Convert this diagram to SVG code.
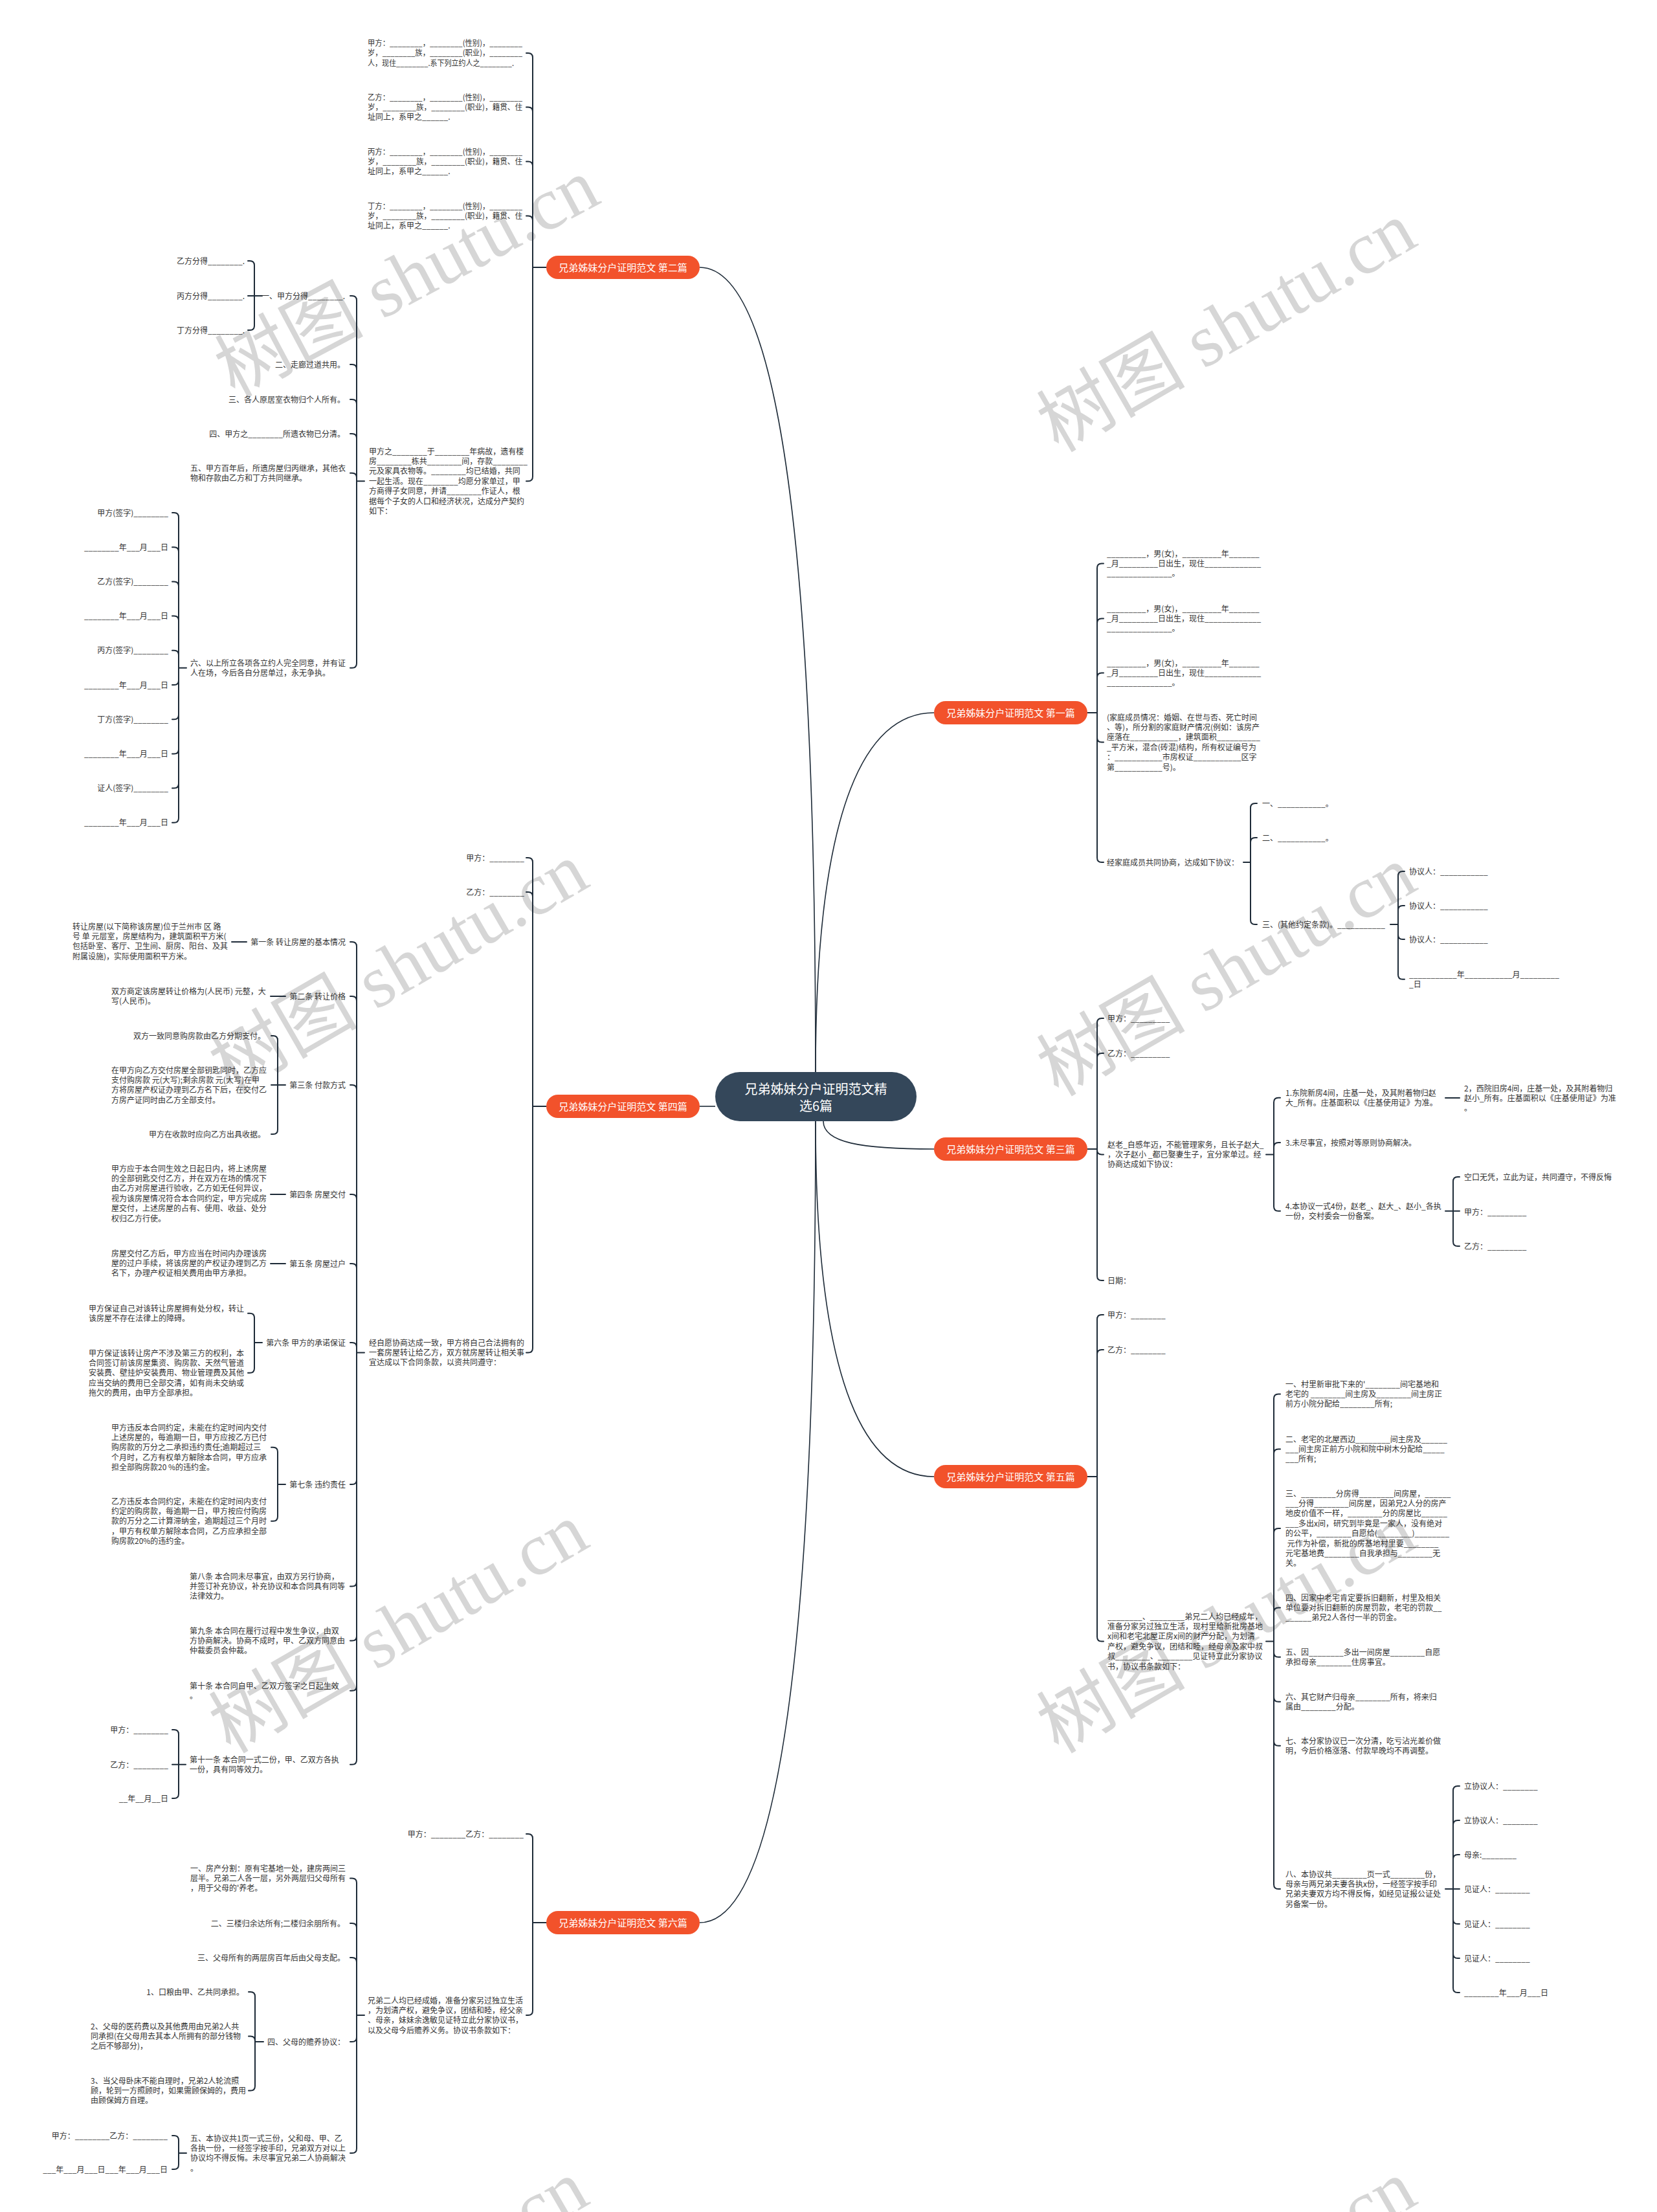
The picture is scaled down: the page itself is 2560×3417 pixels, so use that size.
<svg xmlns="http://www.w3.org/2000/svg" width="2560" height="3417" viewBox="0 0 2560 3417">
<style>
.t{font-family:"Noto Sans CJK SC","Noto Sans",sans-serif;font-size:12px;fill:#333;white-space:pre}
.e{text-anchor:end}
.ln{fill:none;stroke:#1e2b38;stroke-width:2;stroke-linecap:round}
.mc{fill:none;stroke:#1e2b38;stroke-width:1.6}
.br{fill:#f2522b}
.bt{font-family:"Noto Sans CJK SC",sans-serif;font-size:15px;fill:#fff;text-anchor:middle}
.ct{font-family:"Noto Sans CJK SC",sans-serif;font-size:20px;fill:#fff;text-anchor:middle}
.wm{font-family:"Liberation Serif","Noto Sans CJK SC",serif;font-size:115px;fill:#d6d6d6}
</style>
<rect width="2560" height="3417" fill="#fff"/>
<g id="watermarks">
<text class="wm" transform="translate(362,615) rotate(-28)">树图 shutu.cn</text>
<text class="wm" transform="translate(1635,700) rotate(-30)">树图 shutu.cn</text>
<text class="wm" transform="translate(356,1690) rotate(-30)">树图 shutu.cn</text>
<text class="wm" transform="translate(1635,1695) rotate(-30)">树图 shutu.cn</text>
<text class="wm" transform="translate(356,2710) rotate(-30)">树图 shutu.cn</text>
<text class="wm" transform="translate(1635,2710) rotate(-30)">树图 shutu.cn</text>
<text class="wm" transform="translate(356,3725) rotate(-30)">树图 shutu.cn</text>
<text class="wm" transform="translate(1635,3725) rotate(-30)">树图 shutu.cn</text>
</g>
<g id="connectors">
<path class="mc" d="M1081,413 C1180,413 1260,700 1260,1656"/>
<path class="mc" d="M1081,1709 H1105"/>
<path class="mc" d="M1081,2970 C1180,2970 1260,2685 1260,1732"/>
<path class="mc" d="M1443,1101 C1343,1101 1260,1230 1260,1656"/>
<path class="mc" d="M1443,1775 C1330,1775 1272,1765 1272,1732"/>
<path class="mc" d="M1443,2281 C1343,2281 1260,2155 1260,1732"/>
<path class="ln" d="M844,413H823V88.9Q823,81.9 816,81.9H813 M844,413H823V172.4Q823,165.4 816,165.4H813 M844,413H823V256.4Q823,249.4 816,249.4H813 M844,413H823V340.4Q823,333.4 816,333.4H813 M844,413H823V736.2Q823,743.2 816,743.2H813"/>
<path class="ln" d="M563,743.2H551V464Q551,457 544,457H541 M563,743.2H551V570Q551,563 544,563H541 M563,743.2H551V624Q551,617 544,617H541 M563,743.2H551V677Q551,670 544,670H541 M563,743.2H551V737.7Q551,730.7 544,730.7H541 M563,743.2H551V1024.7Q551,1031.7 544,1031.7H541"/>
<path class="ln" d="M405,457H393V410Q393,403 386,403H383 M405,457H383 M405,457H393V503Q393,510 386,510H383"/>
<path class="ln" d="M288,1031.7H276V799Q276,792 269,792H266 M288,1031.7H276V852.2Q276,845.2 269,845.2H266 M288,1031.7H276V905.4Q276,898.4 269,898.4H266 M288,1031.7H276V958.6Q276,951.6 269,951.6H266 M288,1031.7H276V1011.8Q276,1004.8 269,1004.8H266 M288,1031.7H276V1051Q276,1058 269,1058H266 M288,1031.7H276V1104.2Q276,1111.2 269,1111.2H266 M288,1031.7H276V1157.4Q276,1164.4 269,1164.4H266 M288,1031.7H276V1210.6Q276,1217.6 269,1217.6H266 M288,1031.7H276V1263.8Q276,1270.8 269,1270.8H266"/>
<path class="ln" d="M844,1709H823V1332Q823,1325 816,1325H813 M844,1709H823V1385Q823,1378 816,1378H813 M844,1709H823V2082.4Q823,2089.4 816,2089.4H813"/>
<path class="ln" d="M563,2089.4H551V1462Q551,1455 544,1455H541 M563,2089.4H551V1546Q551,1539 544,1539H541 M563,2089.4H551V1683Q551,1676 544,1676H541 M563,2089.4H551V1852Q551,1845 544,1845H541 M563,2089.4H551V1959Q551,1952 544,1952H541 M563,2089.4H551V2081Q551,2074 544,2074H541 M563,2089.4H551V2286Q551,2293 544,2293H541 M563,2089.4H551V2443.4Q551,2450.4 544,2450.4H541 M563,2089.4H551V2527.4Q551,2534.4 544,2534.4H541 M563,2089.4H551V2604.7Q551,2611.7 544,2611.7H541 M563,2089.4H551V2718.7Q551,2725.7 544,2725.7H541"/>
<path class="ln" d="M381,1455H358 M441,1539H418 M441,1845H418 M441,1952H418"/>
<path class="ln" d="M441,1676H429V1607Q429,1600 422,1600H419 M441,1676H419 M441,1676H429V1745Q429,1752 422,1752H419"/>
<path class="ln" d="M405,2074H393V2035.7Q393,2028.7 386,2028.7H383 M405,2074H393V2113.8Q393,2120.8 386,2120.8H383"/>
<path class="ln" d="M441,2293H429V2242.8Q429,2235.8 422,2235.8H419 M441,2293H429V2342.8Q429,2349.8 422,2349.8H419"/>
<path class="ln" d="M287,2725.7H276V2679Q276,2672 269,2672H266 M287,2725.7H266 M287,2725.7H276V2771Q276,2778 269,2778H266"/>
<path class="ln" d="M844,2970H823V2840Q823,2833 816,2833H813 M844,2970H823V3106.1Q823,3113.1 816,3113.1H813"/>
<path class="ln" d="M563,3113.1H551V2908.4Q551,2901.4 544,2901.4H541 M563,3113.1H551V2978Q551,2971 544,2971H541 M563,3113.1H551V3031Q551,3024 544,3024H541 M563,3113.1H551V3147Q551,3154 544,3154H541 M563,3113.1H551V3319.1Q551,3326.1 544,3326.1H541"/>
<path class="ln" d="M407,3154H394V3084Q394,3077 387,3077H384 M407,3154H394V3152.4Q394,3145.4 387,3145.4H384 M407,3154H394V3222.4Q394,3229.4 387,3229.4H384"/>
<path class="ln" d="M288,3326.1H276V3306Q276,3299 269,3299H266 M288,3326.1H276V3344Q276,3351 269,3351H266"/>
<path class="ln" d="M1680,1101H1695V877.4Q1695,870.4 1702,870.4H1705 M1680,1101H1695V962.4Q1695,955.4 1702,955.4H1705 M1680,1101H1695V1046.4Q1695,1039.4 1702,1039.4H1705 M1680,1101H1695V1139.5Q1695,1146.5 1702,1146.5H1705 M1680,1101H1695V1325Q1695,1332 1702,1332H1705"/>
<path class="ln" d="M1921,1332H1932V1248Q1932,1241 1939,1241H1942 M1921,1332H1932V1301Q1932,1294 1939,1294H1942 M1921,1332H1932V1421Q1932,1428 1939,1428H1942"/>
<path class="ln" d="M2148,1428H2160V1353Q2160,1346 2167,1346H2170 M2148,1428H2160V1406Q2160,1399 2167,1399H2170 M2148,1428H2160V1444Q2160,1451 2167,1451H2170 M2148,1428H2160V1505.7Q2160,1512.7 2167,1512.7H2170"/>
<path class="ln" d="M1680,1775H1695V1580Q1695,1573 1702,1573H1705 M1680,1775H1695V1634Q1695,1627 1702,1627H1705 M1680,1775H1695V1776.4Q1695,1783.4 1702,1783.4H1705 M1680,1775H1695V1971Q1695,1978 1702,1978H1705"/>
<path class="ln" d="M1956,1783.4H1968V1702.7Q1968,1695.7 1975,1695.7H1978 M1956,1783.4H1968V1772Q1968,1765 1975,1765H1978 M1956,1783.4H1968V1863.7Q1968,1870.7 1975,1870.7H1978"/>
<path class="ln" d="M2233,1696H2255"/>
<path class="ln" d="M2233,1870.7H2245V1825Q2245,1818 2252,1818H2255 M2233,1870.7H2255 M2233,1870.7H2245V1918Q2245,1925 2252,1925H2255"/>
<path class="ln" d="M1680,2281H1695V2038Q1695,2031 1702,2031H1705 M1680,2281H1695V2092Q1695,2085 1702,2085H1705 M1680,2281H1695V2528.5Q1695,2535.5 1702,2535.5H1705"/>
<path class="ln" d="M1956,2535.5H1968V2160.4Q1968,2153.4 1975,2153.4H1978 M1956,2535.5H1968V2245.4Q1968,2238.4 1975,2238.4H1978 M1956,2535.5H1968V2367.9Q1968,2360.9 1975,2360.9H1978 M1956,2535.5H1968V2490.4Q1968,2483.4 1975,2483.4H1978 M1956,2535.5H1968V2552.7Q1968,2559.7 1975,2559.7H1978 M1956,2535.5H1968V2621.7Q1968,2628.7 1975,2628.7H1978 M1956,2535.5H1968V2689.7Q1968,2696.7 1975,2696.7H1978 M1956,2535.5H1968V2911.1Q1968,2918.1 1975,2918.1H1978"/>
<path class="ln" d="M2233,2918.1H2245V2766Q2245,2759 2252,2759H2255 M2233,2918.1H2245V2819Q2245,2812 2252,2812H2255 M2233,2918.1H2245V2872Q2245,2865 2252,2865H2255 M2233,2918.1H2255 M2233,2918.1H2245V2965Q2245,2972 2252,2972H2255 M2233,2918.1H2245V3018Q2245,3025 2252,3025H2255 M2233,2918.1H2245V3071Q2245,3078 2252,3078H2255"/>
</g>
<g id="center"><rect x="1105" y="1656" width="311" height="76" rx="38" fill="#34475a"/><text class="ct" x="1260.5" y="1690">兄弟姊妹分户证明范文精</text><text class="ct" x="1260.5" y="1716">选6篇</text></g>
<g id="b2"><rect class="br" x="844" y="395" width="237" height="36" rx="18"/><text class="bt" x="962.5" y="418.5">兄弟姊妹分户证明范文 第二篇</text></g>
<g id="b4"><rect class="br" x="844" y="1691" width="237" height="36" rx="18"/><text class="bt" x="962.5" y="1714.5">兄弟姊妹分户证明范文 第四篇</text></g>
<g id="b6"><rect class="br" x="844" y="2952" width="237" height="36" rx="18"/><text class="bt" x="962.5" y="2975.5">兄弟姊妹分户证明范文 第六篇</text></g>
<g id="b1"><rect class="br" x="1443" y="1083" width="237" height="36" rx="18"/><text class="bt" x="1561.5" y="1106.5">兄弟姊妹分户证明范文 第一篇</text></g>
<g id="b3"><rect class="br" x="1443" y="1757" width="237" height="36" rx="18"/><text class="bt" x="1561.5" y="1780.5">兄弟姊妹分户证明范文 第三篇</text></g>
<g id="b5"><rect class="br" x="1443" y="2263" width="237" height="36" rx="18"/><text class="bt" x="1561.5" y="2286.5">兄弟姊妹分户证明范文 第五篇</text></g>

<g id="n2-jia"><text class="t" y="71"><tspan x="568" textLength="239" lengthAdjust="spacingAndGlyphs">甲方：________，________(性别)，________</tspan><tspan x="568" dy="15.4" textLength="239" lengthAdjust="spacingAndGlyphs">岁，________族，________(职业)，________</tspan><tspan x="568" dy="15.4" textLength="226" lengthAdjust="spacingAndGlyphs">人，现住________.系下列立约人之________.</tspan></text></g>
<g id="n2-yi"><text class="t" y="154.5"><tspan x="568" textLength="239" lengthAdjust="spacingAndGlyphs">乙方：________，________(性别)，________</tspan><tspan x="568" dy="15.4" textLength="239" lengthAdjust="spacingAndGlyphs">岁，________族，________(职业)，籍贯、住</tspan><tspan x="568" dy="15.4">址同上，系甲之______.</tspan></text></g>
<g id="n2-bing"><text class="t" y="238.5"><tspan x="568" textLength="239" lengthAdjust="spacingAndGlyphs">丙方：________，________(性别)，________</tspan><tspan x="568" dy="15.4" textLength="239" lengthAdjust="spacingAndGlyphs">岁，________族，________(职业)，籍贯、住</tspan><tspan x="568" dy="15.4">址同上，系甲之______.</tspan></text></g>
<g id="n2-ding"><text class="t" y="322.5"><tspan x="568" textLength="239" lengthAdjust="spacingAndGlyphs">丁方：________，________(性别)，________</tspan><tspan x="568" dy="15.4" textLength="239" lengthAdjust="spacingAndGlyphs">岁，________族，________(职业)，籍贯、住</tspan><tspan x="568" dy="15.4">址同上，系甲之______.</tspan></text></g>
<g id="n2-main"><text class="t" y="701.5"><tspan x="570">甲方之________于________年病故，遗有楼</tspan><tspan x="570" dy="15.4">房________栋共________间，存款________</tspan><tspan x="570" dy="15.4">元及家具衣物等。________均已结婚，共同</tspan><tspan x="570" dy="15.4">一起生活。现在________均愿分家单过，甲</tspan><tspan x="570" dy="15.4">方商得子女同意，并请________作证人，根</tspan><tspan x="570" dy="15.4">据每个子女的人口和经济状况，达成分产契约</tspan><tspan x="570" dy="15.4">如下：</tspan></text></g>
<g id="n2-1"><text class="t e" x="533" y="461.5">一、甲方分得________.</text></g>
<g id="n2-2"><text class="t e" x="533" y="567.5">二、走廊过道共用。</text></g>
<g id="n2-3"><text class="t e" x="533" y="621.5">三、各人原居室衣物归个人所有。</text></g>
<g id="n2-4"><text class="t e" x="533" y="674.5">四、甲方之________所遗衣物已分清。</text></g>
<g id="n2-5"><text class="t" y="727.5"><tspan x="294">五、甲方百年后，所遗房屋归丙继承，其他衣</tspan><tspan x="294" dy="15.4">物和存款由乙方和丁方共同继承。</tspan></text></g>
<g id="n2-6"><text class="t" y="1028.5"><tspan x="294">六、以上所立各项各立约人完全同意，并有证</tspan><tspan x="294" dy="15.4">人在场，今后各自分居单过，永无争执。</tspan></text></g>
<g id="n2-1a"><text class="t e" x="378" y="407.5">乙方分得________.</text></g>
<g id="n2-1b"><text class="t e" x="378" y="461.5">丙方分得________.</text></g>
<g id="n2-1c"><text class="t e" x="378" y="514.5">丁方分得________.</text></g>
<g id="n2-6a"><text class="t e" x="260" y="796.5">甲方(签字)________</text></g>
<g id="n2-6b"><text class="t e" x="260" y="849.7">________年___月___日</text></g>
<g id="n2-6c"><text class="t e" x="260" y="902.9">乙方(签字)________</text></g>
<g id="n2-6d"><text class="t e" x="260" y="956.1">________年___月___日</text></g>
<g id="n2-6e"><text class="t e" x="260" y="1009.3">丙方(签字)________</text></g>
<g id="n2-6f"><text class="t e" x="260" y="1062.5">________年___月___日</text></g>
<g id="n2-6g"><text class="t e" x="260" y="1115.7">丁方(签字)________</text></g>
<g id="n2-6h"><text class="t e" x="260" y="1168.9">________年___月___日</text></g>
<g id="n2-6i"><text class="t e" x="260" y="1222.1">证人(签字)________</text></g>
<g id="n2-6j"><text class="t e" x="260" y="1275.3">________年___月___日</text></g>

<g id="n4-jia"><text class="t e" x="810" y="1329.5">甲方：________</text></g>
<g id="n4-yi"><text class="t e" x="810" y="1382.5">乙方：________</text></g>
<g id="n4-main"><text class="t" y="2078.5"><tspan x="570">经自愿协商达成一致，甲方将自己合法拥有的</tspan><tspan x="570" dy="15.4">一套房屋转让给乙方，双方就房屋转让相关事</tspan><tspan x="570" dy="15.4">宜达成以下合同条款，以资共同遵守：</tspan></text></g>
<g id="n4-1"><text class="t e" x="534" y="1459.5">第一条 转让房屋的基本情况</text></g>
<g id="n4-1a"><text class="t" y="1435.5"><tspan x="112">转让房屋(以下简称该房屋)位于兰州市 区 路</tspan><tspan x="112" dy="15.4">号 单 元层室，房屋结构为，建筑面积平方米(</tspan><tspan x="112" dy="15.4">包括卧室、客厅、卫生间、厨房、阳台、及其</tspan><tspan x="112" dy="15.4">附属设施)，实际使用面积平方米。</tspan></text></g>
<g id="n4-2"><text class="t e" x="534" y="1543.5">第二条 转让价格</text></g>
<g id="n4-2a"><text class="t" y="1535.5"><tspan x="172">双方商定该房屋转让价格为(人民币) 元整，大</tspan><tspan x="172" dy="15.4">写(人民币)。</tspan></text></g>
<g id="n4-3"><text class="t e" x="534" y="1680.5">第三条 付款方式</text></g>
<g id="n4-3a"><text class="t e" x="410" y="1604.5">双方一致同意购房款由乙方分期支付。</text></g>
<g id="n4-3b"><text class="t" y="1657.5"><tspan x="172">在甲方向乙方交付房屋全部钥匙同时，乙方应</tspan><tspan x="172" dy="15.4">支付购房款 元(大写);剩余房款 元(大写)在甲</tspan><tspan x="172" dy="15.4">方将房屋产权证办理到乙方名下后，在交付乙</tspan><tspan x="172" dy="15.4">方房产证同时由乙方全部支付。</tspan></text></g>
<g id="n4-3c"><text class="t e" x="410" y="1756.5">甲方在收款时应向乙方出具收据。</text></g>
<g id="n4-4"><text class="t e" x="534" y="1849.5">第四条 房屋交付</text></g>
<g id="n4-4a"><text class="t" y="1809.5"><tspan x="172">甲方应于本合同生效之日起日内，将上述房屋</tspan><tspan x="172" dy="15.4">的全部钥匙交付乙方，并在双方在场的情况下</tspan><tspan x="172" dy="15.4">由乙方对房屋进行验收，乙方如无任何异议，</tspan><tspan x="172" dy="15.4">视为该房屋情况符合本合同约定，甲方完成房</tspan><tspan x="172" dy="15.4">屋交付，上述房屋的占有、使用、收益、处分</tspan><tspan x="172" dy="15.4">权归乙方行使。</tspan></text></g>
<g id="n4-5"><text class="t e" x="534" y="1956.5">第五条 房屋过户</text></g>
<g id="n4-5a"><text class="t" y="1940.5"><tspan x="172">房屋交付乙方后，甲方应当在时间内办理该房</tspan><tspan x="172" dy="15.4">屋的过户手续，将该房屋的产权证办理到乙方</tspan><tspan x="172" dy="15.4">名下，办理产权证相关费用由甲方承担。</tspan></text></g>
<g id="n4-6"><text class="t e" x="534" y="2078.5">第六条 甲方的承诺保证</text></g>
<g id="n4-6a"><text class="t" y="2025.5"><tspan x="137">甲方保证自己对该转让房屋拥有处分权，转让</tspan><tspan x="137" dy="15.4">该房屋不存在法律上的障碍。</tspan></text></g>
<g id="n4-6b"><text class="t" y="2094.5"><tspan x="137">甲方保证该转让房产不涉及第三方的权利，本</tspan><tspan x="137" dy="15.4">合同签订前该房屋集资、购房款、天然气管道</tspan><tspan x="137" dy="15.4">安装费、壁挂炉安装费用、物业管理费及其他</tspan><tspan x="137" dy="15.4">应当交纳的费用已全部交清，如有尚未交纳或</tspan><tspan x="137" dy="15.4">拖欠的费用，由甲方全部承担。</tspan></text></g>
<g id="n4-7"><text class="t e" x="534" y="2297.5">第七条 违约责任</text></g>
<g id="n4-7a"><text class="t" y="2209.5"><tspan x="172">甲方违反本合同约定，未能在约定时间内交付</tspan><tspan x="172" dy="15.4">上述房屋的，每逾期一日，甲方应按乙方已付</tspan><tspan x="172" dy="15.4">购房款的万分之二承担违约责任;逾期超过三</tspan><tspan x="172" dy="15.4">个月时，乙方有权单方解除本合同，甲方应承</tspan><tspan x="172" dy="15.4">担全部购房款20 %的违约金。</tspan></text></g>
<g id="n4-7b"><text class="t" y="2323.5"><tspan x="172">乙方违反本合同约定，未能在约定时间内支付</tspan><tspan x="172" dy="15.4">约定的购房款，每逾期一日，甲方按应付购房</tspan><tspan x="172" dy="15.4">款的万分之二计算滞纳金，逾期超过三个月时</tspan><tspan x="172" dy="15.4">，甲方有权单方解除本合同，乙方应承担全部</tspan><tspan x="172" dy="15.4">购房款20%的违约金。</tspan></text></g>
<g id="n4-8"><text class="t" y="2439.5"><tspan x="293">第八条 本合同未尽事宜，由双方另行协商，</tspan><tspan x="293" dy="15.4">并签订补充协议，补充协议和本合同具有同等</tspan><tspan x="293" dy="15.4">法律效力。</tspan></text></g>
<g id="n4-9"><text class="t" y="2523.5"><tspan x="293">第九条 本合同在履行过程中发生争议，由双</tspan><tspan x="293" dy="15.4">方协商解决。协商不成时，甲、乙双方同意由</tspan><tspan x="293" dy="15.4">仲裁委员会仲裁。</tspan></text></g>
<g id="n4-10"><text class="t" y="2608.5"><tspan x="293">第十条 本合同自甲、乙双方签字之日起生效</tspan><tspan x="293" dy="15.4">。</tspan></text></g>
<g id="n4-11"><text class="t" y="2722.5"><tspan x="293">第十一条 本合同一式二份，甲、乙双方各执</tspan><tspan x="293" dy="15.4">一份，具有同等效力。</tspan></text></g>
<g id="n4-11a"><text class="t e" x="260" y="2676.5">甲方：________</text></g>
<g id="n4-11b"><text class="t e" x="260" y="2730.5">乙方：________</text></g>
<g id="n4-11c"><text class="t e" x="260" y="2782.5">__年__月__日</text></g>

<g id="n6-sign"><text class="t e" x="809" y="2837.5">甲方：________乙方：________</text></g>
<g id="n6-main"><text class="t" y="3094.5"><tspan x="568">兄弟二人均已经成婚，准备分家另过独立生活</tspan><tspan x="568" dy="15.4">，为划清产权，避免争议，团结和睦，经父亲</tspan><tspan x="568" dy="15.4">、母亲，妹妹余逸敏见证特立此分家协议书，</tspan><tspan x="568" dy="15.4">以及父母今后赡养义务。协议书条款如下：</tspan></text></g>
<g id="n6-1"><text class="t" y="2890.5"><tspan x="294">一、房产分割：原有宅基地一处，建房两间三</tspan><tspan x="294" dy="15.4">层半。兄弟二人各一层，另外两层归父母所有</tspan><tspan x="294" dy="15.4">，用于父母的'养老。</tspan></text></g>
<g id="n6-2"><text class="t e" x="533" y="2975.5">二、三楼归余达所有;二楼归余朋所有。</text></g>
<g id="n6-3"><text class="t e" x="533" y="3028.5">三、父母所有的两层房百年后由父母支配。</text></g>
<g id="n6-4"><text class="t e" x="533" y="3158.5">四、父母的赡养协议：</text></g>
<g id="n6-4a"><text class="t e" x="377" y="3081.5">1、口粮由甲、乙共同承担。</text></g>
<g id="n6-4b"><text class="t" y="3134.5"><tspan x="140">2、父母的医药费以及其他费用由兄弟2人共</tspan><tspan x="140" dy="15.4">同承担(在父母用去其本人所拥有的部分钱物</tspan><tspan x="140" dy="15.4">之后不够部分)，</tspan></text></g>
<g id="n6-4c"><text class="t" y="3218.5"><tspan x="140">3、当父母卧床不能自理时，兄弟2人轮流照</tspan><tspan x="140" dy="15.4">顾，轮到一方照顾时，如果需顾保姆的，费用</tspan><tspan x="140" dy="15.4">由顾保姆方自理。</tspan></text></g>
<g id="n6-5"><text class="t" y="3307.5"><tspan x="294">五、本协议共1页一式三份，父和母、甲、乙</tspan><tspan x="294" dy="15.4">各执一份，一经签字按手印，兄弟双方对以上</tspan><tspan x="294" dy="15.4">协议均不得反悔。未尽事宜兄弟二人协商解决</tspan><tspan x="294" dy="15.4">。</tspan></text></g>
<g id="n6-5a"><text class="t e" x="259" y="3303.5">甲方：________乙方：________</text></g>
<g id="n6-5b"><text class="t e" x="259" y="3355.5">___年___月___日___年___月___日</text></g>

<g id="n1-p1"><text class="t" y="859.5"><tspan x="1710">_________，男(女)，_________年_______</tspan><tspan x="1710" dy="15.4">_月_________日出生，现住_____________</tspan><tspan x="1710" dy="15.4">_______________。</tspan></text></g>
<g id="n1-p2"><text class="t" y="944.5"><tspan x="1710">_________，男(女)，_________年_______</tspan><tspan x="1710" dy="15.4">_月_________日出生，现住_____________</tspan><tspan x="1710" dy="15.4">_______________。</tspan></text></g>
<g id="n1-p3"><text class="t" y="1028.5"><tspan x="1710">_________，男(女)，_________年_______</tspan><tspan x="1710" dy="15.4">_月_________日出生，现住_____________</tspan><tspan x="1710" dy="15.4">_______________。</tspan></text></g>
<g id="n1-fam"><text class="t" y="1112.5"><tspan x="1710">(家庭成员情况：婚姻、在世与否、死亡时间</tspan><tspan x="1710" dy="15.4">、等)，所分割的家庭财产情况(例如：该房产</tspan><tspan x="1710" dy="15.4">座落在___________，建筑面积__________</tspan><tspan x="1710" dy="15.4">_平方米，混合(砖混)结构，所有权证编号为</tspan><tspan x="1710" dy="15.4">：___________市房权证___________区字</tspan><tspan x="1710" dy="15.4">第___________号)。</tspan></text></g>
<g id="n1-agree"><text class="t" x="1710" y="1336.5">经家庭成员共同协商，达成如下协议：</text></g>
<g id="n1-a1"><text class="t" x="1950" y="1245.5">一、___________。</text></g>
<g id="n1-a2"><text class="t" x="1950" y="1298.5">二、___________。</text></g>
<g id="n1-a3"><text class="t" x="1950" y="1432.5">三、(其他约定条款)。___________</text></g>
<g id="n1-s1"><text class="t" x="2177" y="1350.5">协议人：___________</text></g>
<g id="n1-s2"><text class="t" x="2177" y="1403.5">协议人：___________</text></g>
<g id="n1-s3"><text class="t" x="2177" y="1455.5">协议人：___________</text></g>
<g id="n1-s4"><text class="t" y="1509.5"><tspan x="2177">___________年___________月_________</tspan><tspan x="2177" dy="15.4">_日</tspan></text></g>

<g id="n3-jia"><text class="t" x="1711" y="1577.5">甲方：_________</text></g>
<g id="n3-yi"><text class="t" x="1711" y="1631.5">乙方：_________</text></g>
<g id="n3-main"><text class="t" y="1772.5"><tspan x="1711">赵老_自感年迈，不能管理家务，且长子赵大_</tspan><tspan x="1711" dy="15.4">，次子赵小 _都已娶妻生子，宜分家单过。经</tspan><tspan x="1711" dy="15.4">协商达成如下协议：</tspan></text></g>
<g id="n3-date"><text class="t" x="1711" y="1982.5">日期：</text></g>
<g id="n3-1"><text class="t" y="1692.5"><tspan x="1986">1.东院新房4间，庄基一处，及其附着物归赵</tspan><tspan x="1986" dy="15.4">大_所有。庄基面积以《庄基使用证》为准。</tspan></text></g>
<g id="n3-2"><text class="t" y="1685.5"><tspan x="2262">2，西院旧房4间，庄基一处，及其附着物归</tspan><tspan x="2262" dy="15.4">赵小_所有。庄基面积以《庄基使用证》为准</tspan><tspan x="2262" dy="15.4">。</tspan></text></g>
<g id="n3-3"><text class="t" x="1986" y="1769.5">3.未尽事宜，按照对等原则协商解决。</text></g>
<g id="n3-4"><text class="t" y="1867.5"><tspan x="1986">4.本协议一式4份，赵老_、赵大_、赵小_各执</tspan><tspan x="1986" dy="15.4">一份，交村委会一份备案。</tspan></text></g>
<g id="n3-4a"><text class="t" x="2262" y="1822.5">空口无凭，立此为证，共同遵守，不得反悔</text></g>
<g id="n3-4b"><text class="t" x="2262" y="1876.5">甲方：_________</text></g>
<g id="n3-4c"><text class="t" x="2262" y="1929.5">乙方：_________</text></g>

<g id="n5-jia"><text class="t" x="1711" y="2035.5">甲方：________</text></g>
<g id="n5-yi"><text class="t" x="1711" y="2089.5">乙方：________</text></g>
<g id="n5-main"><text class="t" y="2501.5"><tspan x="1711">________、________弟兄二人均已经成年，</tspan><tspan x="1711" dy="15.4">准备分家另过独立生活，现村里给新批房基地</tspan><tspan x="1711" dy="15.4">x间和老宅北屋正房x间的财产分配，为划清</tspan><tspan x="1711" dy="15.4">产权，避免争议，团结和睦，经母亲及家中叔</tspan><tspan x="1711" dy="15.4">叔________、________见证特立此分家协议</tspan><tspan x="1711" dy="15.4">书，协议书条款如下：</tspan></text></g>
<g id="n5-1"><text class="t" y="2142.5"><tspan x="1986">一、村里新审批下来的'________间宅基地和</tspan><tspan x="1986" dy="15.4">老宅的 ________间主房及________间主房正</tspan><tspan x="1986" dy="15.4">前方小院分配给________所有;</tspan></text></g>
<g id="n5-2"><text class="t" y="2227.5"><tspan x="1986">二、老宅的北屋西边________间主房及______</tspan><tspan x="1986" dy="15.4">___间主房正前方小院和院中树木分配给_____</tspan><tspan x="1986" dy="15.4">___所有;</tspan></text></g>
<g id="n5-3"><text class="t" y="2311.5"><tspan x="1986">三、________分房得________间房屋，______</tspan><tspan x="1986" dy="15.4">___分得________间房屋，因弟兄2人分的房产</tspan><tspan x="1986" dy="15.4">地皮价值不一样，________分的房屋比______</tspan><tspan x="1986" dy="15.4">___多出x间，研究到毕竟是一家人，没有绝对</tspan><tspan x="1986" dy="15.4">的公平，________自愿给(________)________</tspan><tspan x="1986" dy="15.4"> 元作为补偿，新批的房基地村里要________</tspan><tspan x="1986" dy="15.4">元宅基地费________自我承担与________无</tspan><tspan x="1986" dy="15.4">关。</tspan></text></g>
<g id="n5-4"><text class="t" y="2472.5"><tspan x="1986">四、因家中老宅肯定要拆旧翻新，村里及相关</tspan><tspan x="1986" dy="15.4">单位要对拆旧翻新的房屋罚款，老宅的罚款__</tspan><tspan x="1986" dy="15.4">______弟兄2人各付一半的罚金。</tspan></text></g>
<g id="n5-5"><text class="t" y="2556.5"><tspan x="1986">五、因________多出一间房屋________自愿</tspan><tspan x="1986" dy="15.4">承担母亲________住房事宜。</tspan></text></g>
<g id="n5-6"><text class="t" y="2625.5"><tspan x="1986">六、其它财产归母亲________所有，将来归</tspan><tspan x="1986" dy="15.4">属由________分配。</tspan></text></g>
<g id="n5-7"><text class="t" y="2693.5"><tspan x="1986">七、本分家协议已一次分清，吃亏沾光差价做</tspan><tspan x="1986" dy="15.4">明，今后价格涨落、付款早晚均不再调整。</tspan></text></g>
<g id="n5-8"><text class="t" y="2899.5"><tspan x="1986">八、本协议共________页一式________份，</tspan><tspan x="1986" dy="15.4">母亲与两兄弟夫妻各执x份，一经签字按手印</tspan><tspan x="1986" dy="15.4">兄弟夫妻双方均不得反悔，如经见证报公证处</tspan><tspan x="1986" dy="15.4">另备案一份。</tspan></text></g>
<g id="n5-8a"><text class="t" x="2262" y="2763.5">立协议人：________</text></g>
<g id="n5-8b"><text class="t" x="2262" y="2816.5">立协议人：________</text></g>
<g id="n5-8c"><text class="t" x="2262" y="2869.5">母亲:________</text></g>
<g id="n5-8d"><text class="t" x="2262" y="2922.6">见证人：________</text></g>
<g id="n5-8e"><text class="t" x="2262" y="2976.5">见证人：________</text></g>
<g id="n5-8f"><text class="t" x="2262" y="3029.5">见证人：________</text></g>
<g id="n5-8g"><text class="t" x="2262" y="3082.5">________年___月___日</text></g>
</svg>
